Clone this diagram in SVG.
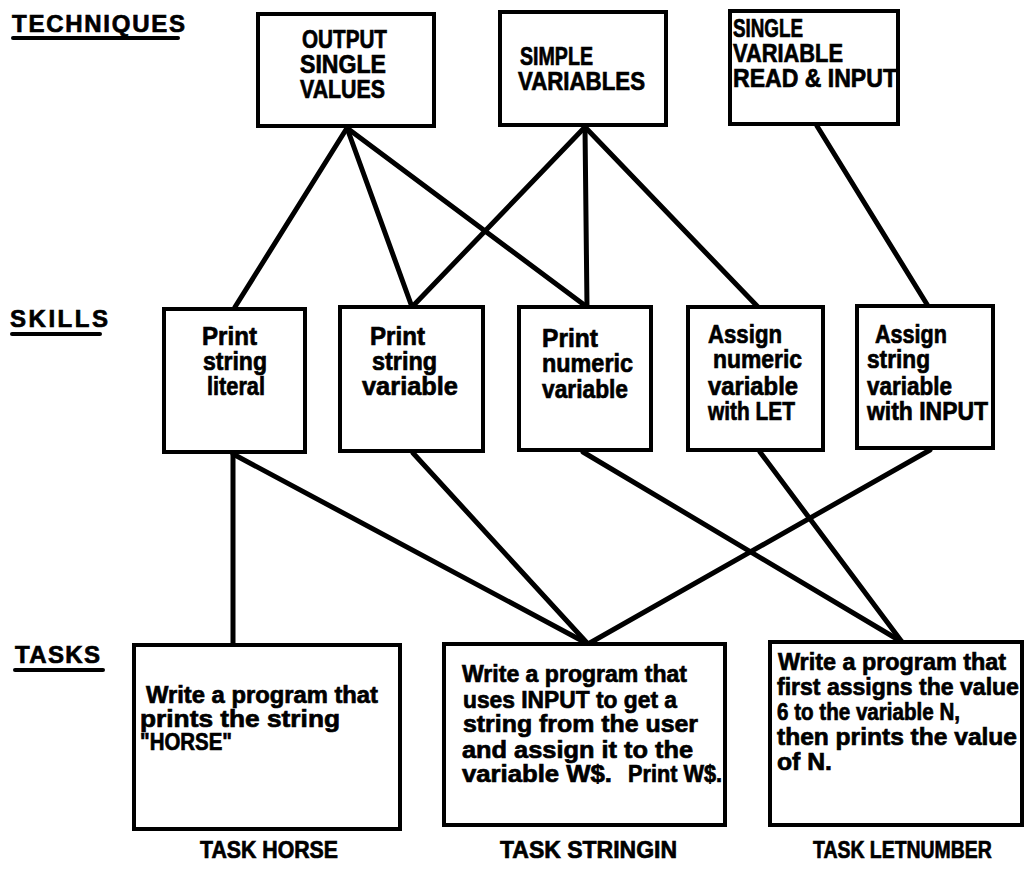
<svg xmlns="http://www.w3.org/2000/svg" width="1026" height="873" viewBox="0 0 1026 873">
<style>
.box{fill:#fff;stroke:#000;stroke-width:4}
.t{font-family:"Liberation Sans",Arial,sans-serif;font-weight:bold;fill:#000;stroke:#000;stroke-width:0.7}
.top{font-size:26px}
.sk{font-size:26px}
.tk{font-size:24px}
.lbl{font-size:24px}
.ul{stroke:#000;stroke-width:4;stroke-linecap:round}
.c{stroke:#000;stroke-width:5;stroke-linecap:round;fill:none}
</style>
<rect width="1026" height="873" fill="#fff"/>
<g id="labels">
<text class="t lbl" x="12" y="32" textLength="173" lengthAdjust="spacing">TECHNIQUES</text>
<line class="ul" x1="13" y1="38" x2="178" y2="38"/>
<text class="t lbl" x="10" y="327" textLength="98" lengthAdjust="spacing">SKILLS</text>
<line class="ul" x1="12" y1="334" x2="100" y2="334"/>
<text class="t lbl" x="15" y="663" textLength="85" lengthAdjust="spacing">TASKS</text>
<line class="ul" x1="15" y1="670" x2="103" y2="670"/>
</g>
<g id="connectors">
<line class="c" x1="347" y1="128" x2="235" y2="307"/>
<line class="c" x1="347" y1="128" x2="412" y2="307"/>
<line class="c" x1="347" y1="128" x2="587" y2="307"/>
<line class="c" x1="585" y1="127" x2="412" y2="307"/>
<line class="c" x1="585" y1="127" x2="587" y2="307"/>
<line class="c" x1="585" y1="127" x2="758" y2="307"/>
<line class="c" x1="817" y1="126" x2="928" y2="306"/>
<line class="c" x1="233" y1="454" x2="233" y2="645"/>
<line class="c" x1="233" y1="454" x2="588" y2="644"/>
<line class="c" x1="413" y1="453" x2="588" y2="644"/>
<line class="c" x1="583" y1="452" x2="902" y2="642"/>
<line class="c" x1="760" y1="452" x2="902" y2="642"/>
<line class="c" x1="930" y1="450" x2="588" y2="644"/>
</g>
<g id="tech-output">
<rect class="box" x="258" y="14" width="176" height="112"/>
<text class="t top" x="302" y="48" textLength="85" lengthAdjust="spacingAndGlyphs">OUTPUT</text>
<text class="t top" x="300" y="73" textLength="86" lengthAdjust="spacingAndGlyphs">SINGLE</text>
<text class="t top" x="300" y="98" textLength="85" lengthAdjust="spacingAndGlyphs">VALUES</text>
</g>
<g id="tech-simple">
<rect class="box" x="500" y="12" width="166" height="113"/>
<text class="t top" x="520" y="65" textLength="73" lengthAdjust="spacingAndGlyphs">SIMPLE</text>
<text class="t top" x="518" y="90" textLength="127" lengthAdjust="spacingAndGlyphs">VARIABLES</text>
</g>
<g id="tech-read">
<rect class="box" x="730" y="11" width="168" height="113"/>
<text class="t top" x="733" y="37" textLength="70" lengthAdjust="spacingAndGlyphs">SINGLE</text>
<text class="t top" x="733" y="62" textLength="110" lengthAdjust="spacingAndGlyphs">VARIABLE</text>
<text class="t top" x="733" y="87" textLength="164" lengthAdjust="spacingAndGlyphs">READ &amp; INPUT</text>
</g>
<g id="skill-psl">
<rect class="box" x="164" y="309" width="141" height="143"/>
<text class="t sk" x="202" y="345" textLength="55" lengthAdjust="spacingAndGlyphs">Print</text>
<text class="t sk" x="203" y="370" textLength="64" lengthAdjust="spacingAndGlyphs">string</text>
<text class="t sk" x="207" y="395" textLength="58" lengthAdjust="spacingAndGlyphs">literal</text>
</g>
<g id="skill-psv">
<rect class="box" x="340" y="307" width="143" height="144"/>
<text class="t sk" x="370" y="345" textLength="55" lengthAdjust="spacingAndGlyphs">Print</text>
<text class="t sk" x="372" y="370" textLength="65" lengthAdjust="spacingAndGlyphs">string</text>
<text class="t sk" x="362" y="395" textLength="96" lengthAdjust="spacingAndGlyphs">variable</text>
</g>
<g id="skill-pnv">
<rect class="box" x="519" y="307" width="132" height="143"/>
<text class="t sk" x="542" y="347" textLength="56" lengthAdjust="spacingAndGlyphs">Print</text>
<text class="t sk" x="542" y="372" textLength="91" lengthAdjust="spacingAndGlyphs">numeric</text>
<text class="t sk" x="542" y="398" textLength="86" lengthAdjust="spacingAndGlyphs">variable</text>
</g>
<g id="skill-anv">
<rect class="box" x="688" y="307" width="135" height="143"/>
<text class="t sk" x="708" y="343" textLength="74" lengthAdjust="spacingAndGlyphs">Assign</text>
<text class="t sk" x="713" y="368" textLength="89" lengthAdjust="spacingAndGlyphs">numeric</text>
<text class="t sk" x="708" y="395" textLength="90" lengthAdjust="spacingAndGlyphs">variable</text>
<text class="t sk" x="708" y="420" textLength="87" lengthAdjust="spacingAndGlyphs">with LET</text>
</g>
<g id="skill-asv">
<rect class="box" x="857" y="306" width="136" height="142"/>
<text class="t sk" x="875" y="343" textLength="72" lengthAdjust="spacingAndGlyphs">Assign</text>
<text class="t sk" x="867" y="368" textLength="63" lengthAdjust="spacingAndGlyphs">string</text>
<text class="t sk" x="867" y="395" textLength="85" lengthAdjust="spacingAndGlyphs">variable</text>
<text class="t sk" x="867" y="420" textLength="121" lengthAdjust="spacingAndGlyphs">with INPUT</text>
</g>
<g id="task-horse">
<rect class="box" x="134" y="645" width="266" height="184"/>
<text class="t tk" x="146" y="703" textLength="232" lengthAdjust="spacingAndGlyphs">Write a program that</text>
<text class="t tk" x="140" y="727" textLength="200" lengthAdjust="spacingAndGlyphs">prints the string</text>
<text class="t tk" x="140" y="750" textLength="92" lengthAdjust="spacingAndGlyphs">"HORSE"</text>
<text class="t tk" x="200" y="858" textLength="138" lengthAdjust="spacingAndGlyphs">TASK HORSE</text>
</g>
<g id="task-stringin">
<rect class="box" x="444" y="644" width="281" height="181"/>
<text class="t tk" x="462" y="682" textLength="225" lengthAdjust="spacingAndGlyphs">Write a program that</text>
<text class="t tk" x="463" y="708" textLength="214" lengthAdjust="spacingAndGlyphs">uses INPUT to get a</text>
<text class="t tk" x="463" y="732" textLength="235" lengthAdjust="spacingAndGlyphs">string from the user</text>
<text class="t tk" x="462" y="758" textLength="231" lengthAdjust="spacingAndGlyphs">and assign it to the</text>
<text class="t tk" x="462" y="782" textLength="150" lengthAdjust="spacingAndGlyphs">variable W$.</text>
<text class="t tk" x="628" y="782" textLength="94" lengthAdjust="spacingAndGlyphs">Print W$.</text>
<text class="t tk" x="500" y="858" textLength="177" lengthAdjust="spacingAndGlyphs">TASK STRINGIN</text>
</g>
<g id="task-letnumber">
<rect class="box" x="770" y="642" width="252" height="183"/>
<text class="t tk" x="778" y="670" textLength="228" lengthAdjust="spacingAndGlyphs">Write a program that</text>
<text class="t tk" transform="translate(777,695) scale(0.96,1)">first assigns the value</text>
<text class="t tk" x="777" y="720" textLength="183" lengthAdjust="spacingAndGlyphs">6 to the variable N,</text>
<text class="t tk" x="777" y="745" textLength="240" lengthAdjust="spacingAndGlyphs">then prints the value</text>
<text class="t tk" x="777" y="770" textLength="55" lengthAdjust="spacingAndGlyphs">of N.</text>
<text class="t tk" transform="translate(813,858) scale(0.81,1)">TASK LETNUMBER</text>
</g>
</svg>
